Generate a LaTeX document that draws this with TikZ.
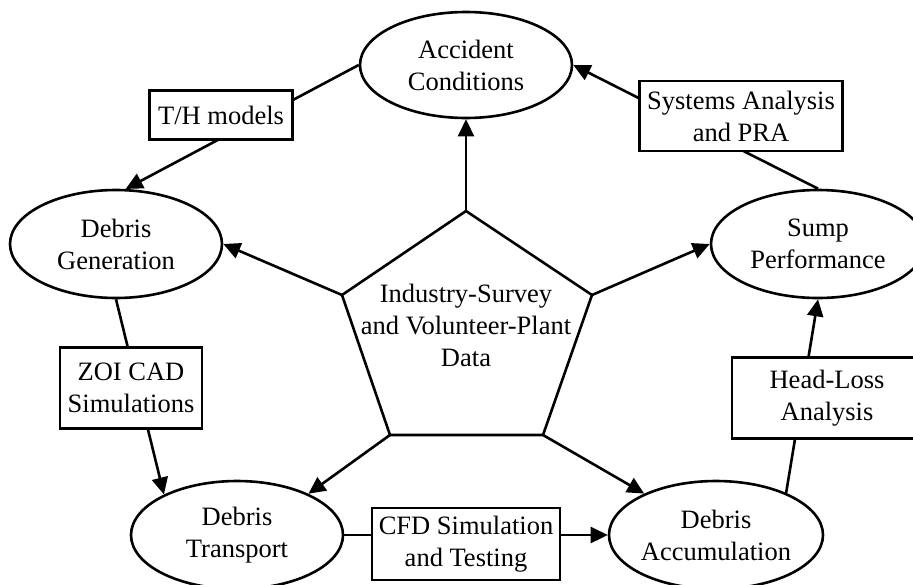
\documentclass[tikz,border=0pt]{standalone}
\usepackage{fontspec}
\setmainfont{Liberation Serif}
\usetikzlibrary{shapes.geometric,arrows.meta}
\begin{document}
\begin{tikzpicture}[x=1pt,y=-1pt,
  ell/.style={draw,ellipse,line width=2.6pt,inner sep=0pt},
  txt/.style={align=center,font=\fontsize{26.5}{32}\selectfont,inner sep=0pt},
  box/.style={draw,line width=2.4pt,fill=white,align=center,inner sep=0pt,font=\fontsize{26.5}{32}\selectfont},
  conn/.style={line width=2.6pt},
  arr/.style={line width=2.6pt,-{Triangle[length=17pt,width=16pt]}}]
\useasboundingbox (0,0) rectangle (913,584);
\begin{scope}
\clip (0,0) rectangle (913,584);
% ellipses
\node[ell,minimum width=212pt,minimum height=106pt] (acc) at (466,65) {};
\node[txt] at (acc) {Accident\\Conditions};
\node[ell,minimum width=212pt,minimum height=108pt] (gen) at (116,244) {};
\node[txt] at (gen) {Debris\\Generation};
\node[ell,minimum width=214pt,minimum height=108pt] (sump) at (818,244) {};
\node[txt] at (sump) {Sump\\Performance};
\node[ell,minimum width=212pt,minimum height=108pt] (tra) at (237,535) {};
\node[txt] at (tra) {Debris\\Transport};
\node[ell,minimum width=214pt,minimum height=108pt] (accu) at (716,535) {};
\node[txt] at (accu) {Debris\\Accumulation};
% pentagon
\coordinate (p1) at (466,211);
\coordinate (p2) at (342,295);
\coordinate (p3) at (592,295);
\coordinate (p4) at (390,435);
\coordinate (p5) at (543,435);
\draw[conn,line join=miter] (p1) -- (p3) -- (p5) -- (p4) -- (p2) -- cycle;
\node[txt] (pent) at (466,325) {Industry-Survey\\and Volunteer-Plant\\Data};
% spokes
\draw[arr] (p1) -- (acc.south);
\draw[arr] (p2) -- (gen.east);
\draw[arr] (p3) -- (sump.west);
\draw[arr] (p4) -- (tra.30);
\draw[arr] (p5) -- (accu.150);
% cycle connectors
\draw[arr] (acc.west) -- (gen.80);
\draw[arr] (sump.north) -- (acc.east);
\draw[arr] (gen.south) -- (tra.151);
\draw[arr] (tra.east) -- (accu.west);
\draw[arr] (accu.31) -- (sump.south);
% boxes
\node[box,minimum width=143pt,minimum height=49pt] (th) at (221,115) {T/H models};
\node[box,minimum width=203pt,minimum height=70pt] (sys) at (741,116) {Systems Analysis\\and PRA};
\node[box,minimum width=142pt,minimum height=81pt] (zoi) at (131,388) {ZOI CAD\\Simulations};
\node[box,minimum width=188pt,minimum height=72pt] (cfd) at (466,544) {CFD Simulation\\and Testing};
\node[box,minimum width=190pt,minimum height=81pt] (head) at (827,398) {Head-Loss\\Analysis};
\end{scope}
\end{tikzpicture}
\end{document}
